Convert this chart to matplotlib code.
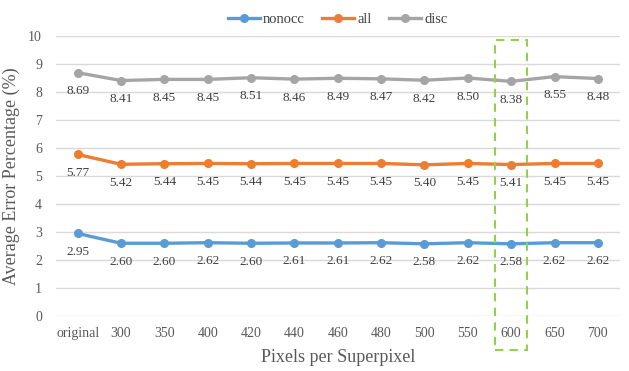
import matplotlib.pyplot as plt
from matplotlib.patches import Rectangle

plt.rcParams['font.family'] = ['Liberation Serif', 'DejaVu Serif']

categories = ['original', '300', '350', '400', '420', '440', '460', '480',
              '500', '550', '600', '650', '700']
nonocc = [2.95, 2.60, 2.60, 2.62, 2.60, 2.61, 2.61, 2.62, 2.58, 2.62, 2.58, 2.62, 2.62]
all_err = [5.77, 5.42, 5.44, 5.45, 5.44, 5.45, 5.45, 5.45, 5.40, 5.45, 5.41, 5.45, 5.45]
disc = [8.69, 8.41, 8.45, 8.45, 8.51, 8.46, 8.49, 8.47, 8.42, 8.50, 8.38, 8.55, 8.48]
highlight = '600'

series = [('nonocc', nonocc, '#5B9BD5'),
          ('all', all_err, '#ED7D31'),
          ('disc', disc, '#A5A5A5')]

fig = plt.figure(figsize=(6.29, 3.71), dpi=100)
ax = fig.add_axes([0.089, 0.148, 0.896, 0.755])

x = range(len(categories))
for name, vals, col in series:
    ax.plot(x, vals, color=col, lw=2.4, marker='o', ms=5.5, label=name, zorder=3)
    for xi, v in zip(x, vals):
        ax.annotate(f'{v:.2f}', (xi, v), xytext=(0, -9), textcoords='offset points',
                    ha='center', va='top', fontsize=9.5, color='#404040')

ax.set_xlim(-0.5, len(categories) - 0.5)
ax.set_ylim(0, 10)
ax.set_yticks(range(0, 11))
ax.set_xticks(list(x))
ax.set_xticklabels(categories)
ax.tick_params(axis='both', length=0, labelsize=10, colors='#595959')
ax.tick_params(axis='x', pad=8)
ax.tick_params(axis='y', pad=10)
ax.grid(axis='y', color='#D9D9D9', lw=1)
ax.set_axisbelow(True)
for s in ax.spines.values():
    s.set_visible(False)

ax.set_xlabel('Pixels per Superpixel', fontsize=13, color='#595959', labelpad=6)
ax.set_ylabel('Average Error Percentage (%)', fontsize=13, color='#595959', labelpad=6)

hi = categories.index(highlight)
rect = Rectangle((hi - 0.37, -1.2), 0.74, 11.05, fill=False, ls=(0, (4, 3)),
                 ec='#92D050', lw=1.5, clip_on=False, zorder=4)
ax.add_patch(rect)

ax.legend(loc='lower center', bbox_to_anchor=(0.5, 1.0), ncol=3, frameon=False,
          fontsize=10.5, handlelength=2.2, handletextpad=0.2, columnspacing=1.2,
          labelcolor='#404040', borderaxespad=0.3)

fig.savefig('out.png', dpi=100)
